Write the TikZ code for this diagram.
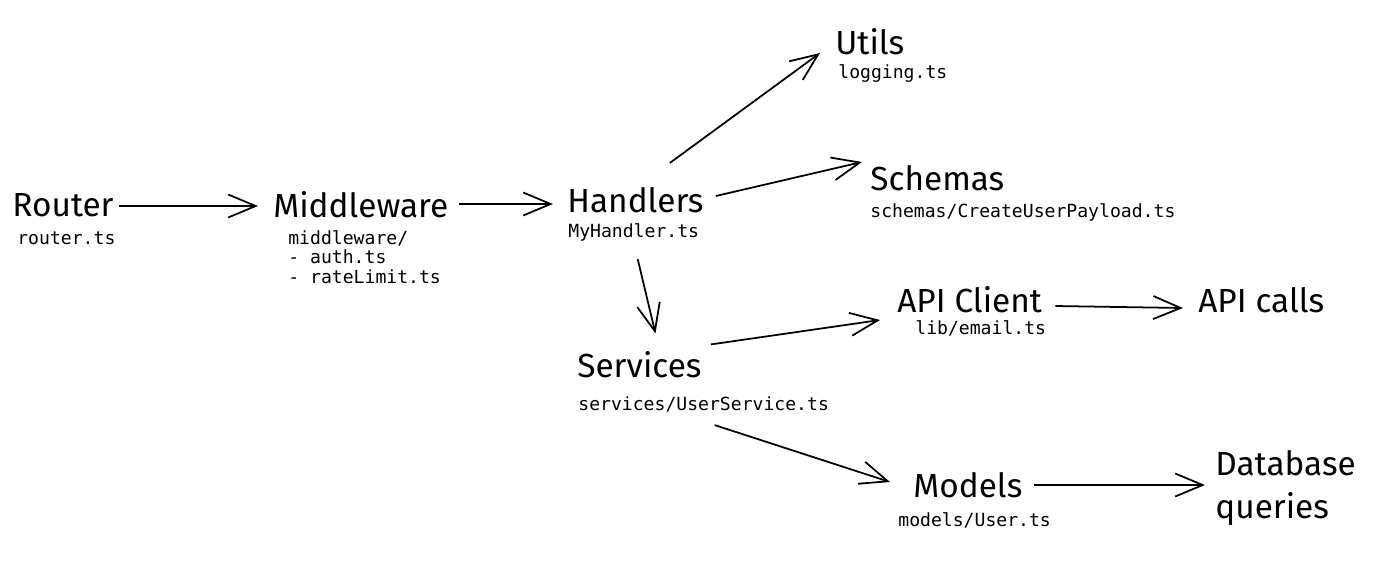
\documentclass[tikz,border=0pt]{standalone}
\usepackage{fontspec}
\setmainfont{Fira Sans}
\setmonofont{DejaVu Sans Mono}
\usetikzlibrary{arrows.meta}

\begin{document}
\begin{tikzpicture}[
  x=0.02cm, y=-0.02cm,
  title/.style={anchor=west, inner sep=0pt, font=\fontsize{19}{24}\selectfont},
  file/.style={anchor=west, inner sep=0pt, align=left, font=\ttfamily\fontsize{10.3}{11}\selectfont},
  arrow/.style={-{Straight Barb[length=5.5mm, width=4.6mm, line width=1pt]}, line width=1pt, draw=black}
]
\useasboundingbox (0,0) rectangle (1400,569);
% titles
\node[title] (router) at (12,205) {Router};
\node[title] (mid) at (273,205) {Middleware};
\node[title] (hand) at (567,200) {Handlers};
\node[title] (utils) at (835,42) {Utils};
\node[title] (schemas) at (870,178) {Schemas};
\node[title] (api) at (897,300) {API Client};
\node[title] (calls) at (1198,300) {API calls};
\node[title] (serv) at (577,365) {Services};
\node[title] (models) at (913,485) {Models};
\node[title, align=left] (db) at (1215,488) {Database\\queries};
% file names
\node[file] (routerf) at (17,238) {router.ts};
\node[file] (midf) at (288,257) {middleware/\\- auth.ts\\- rateLimit.ts};
\node[file] (handf) at (568,232) {MyHandler.ts};
\node[file] (utilsf) at (838,74) {logging.ts};
\node[file] (schemasf) at (870,212) {schemas/CreateUserPayload.ts};
\node[file] (apif) at (915,328) {lib/email.ts};
\node[file] (servf) at (578,404) {services/UserService.ts};
\node[file] (modelsf) at (898,520) {models/User.ts};
% connectors
\draw[arrow] ([shift={(5,1)}]router.east) -- ([shift={(-15,1)}]mid.west);
\draw[arrow] ([shift={(10,-1)}]mid.east) -- ([shift={(-14,4)}]hand.west);
\draw[arrow] ([shift={(-34,-24)}]hand.north east) -- ([shift={(-15,11)}]utils.west);
\draw[arrow] ([shift={(12,-4)}]hand.east) -- ([shift={(-8,-16)}]schemas.west);
\draw[arrow] ([shift={(4,18)}]handf.south) -- ([shift={(16,-18)}]serv.north);
\draw[arrow] ([shift={(9,-7)}]serv.north east) -- ([shift={(-17,20)}]api.west);
\draw[arrow] ([shift={(13,6)}]api.east) -- ([shift={(-15,8)}]calls.west);
\draw[arrow] ([shift={(11,13)}]servf.south) -- ([shift={(-23,-3)}]models.west);
\draw[arrow] ([shift={(11,0)}]models.east) -- ([shift={(-10,-3)}]db.west);
\end{tikzpicture}
\end{document}
